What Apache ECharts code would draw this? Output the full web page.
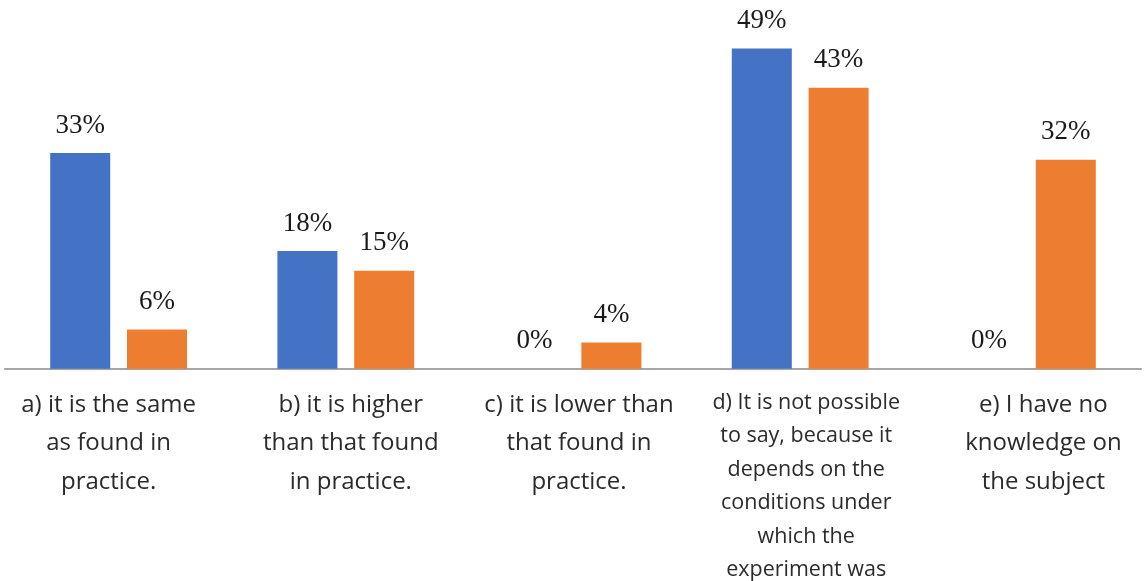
<!DOCTYPE html>
<html>
<head>
<meta charset="utf-8">
<script src="https://cdn.jsdelivr.net/npm/echarts@6/dist/echarts.min.js"></script>
<style>html,body{margin:0;padding:0;background:#fff;}#c{width:1146px;height:581px;}</style>
</head>
<body>
<div id="c"></div>
<script>
var categories = [
  "a) it is the same\nas found in\npractice.",
  "b) it is higher\nthan that found\nin practice.",
  "c) it is lower than\nthat found in\npractice.",
  "d) It is not possible\nto say, because it\ndepends on the\nconditions under\nwhich the\nexperiment was",
  "e) I have no\nknowledge on\nthe subject"
];
var seriesBlue = [33, 18, 0, 49, 0];
var seriesOrange = [6, 15, 4, 43, 32];
var labelStyleKeys = ["a", "b", "c", "d", "e"];

var chart = echarts.init(document.getElementById('c'), null, {renderer: 'canvas'});
var catFont = { fontFamily: 'Open Sans', fontSize: 24, lineHeight: 38.5, color: '#2b2b2b' };
function rs(extra) { return Object.assign({}, catFont, extra); }
var valueLabel = {
  show: true, position: 'top', distance: 14,
  fontFamily: 'Liberation Serif', fontSize: 27, color: '#1a1a1a',
  formatter: function (p) { return p.value + '%'; }
};
chart.setOption({
  animation: false,
  backgroundColor: '#ffffff',
  grid: { left: 5, right: 5, top: 42, bottom: 212, containLabel: false },
  xAxis: {
    type: 'category',
    data: categories,
    axisLine: { show: true, lineStyle: { color: '#a6a6a6', width: 2 } },
    axisTick: { show: false },
    axisLabel: {
      interval: 0,
      margin: 17,
      formatter: function (v, i) { return '{' + labelStyleKeys[i] + '|' + v + '}'; },
      rich: {
        a: rs({ padding: [0, 20, 0, 0] }),
        b: rs({ padding: [0, 0, 0, 10] }),
        c: rs({ padding: [0, 0, 0, 12] }),
        d: rs({ fontSize: 21.5, lineHeight: 33.5, padding: [0, 0, 0, 12] }),
        e: rs({ padding: [0, 0, 0, 32] })
      }
    }
  },
  yAxis: {
    type: 'value', min: 0, max: 50,
    show: false,
    splitLine: { show: false }
  },
  series: [
    {
      type: 'bar', name: 'Blue', data: seriesBlue,
      barWidth: 60, barGap: '28%',
      itemStyle: { color: '#4472c4' },
      label: valueLabel
    },
    {
      type: 'bar', name: 'Orange', data: seriesOrange,
      barWidth: 60, barGap: '28%',
      itemStyle: { color: '#ed7d31' },
      label: valueLabel
    }
  ]
});
</script>
</body>
</html>
